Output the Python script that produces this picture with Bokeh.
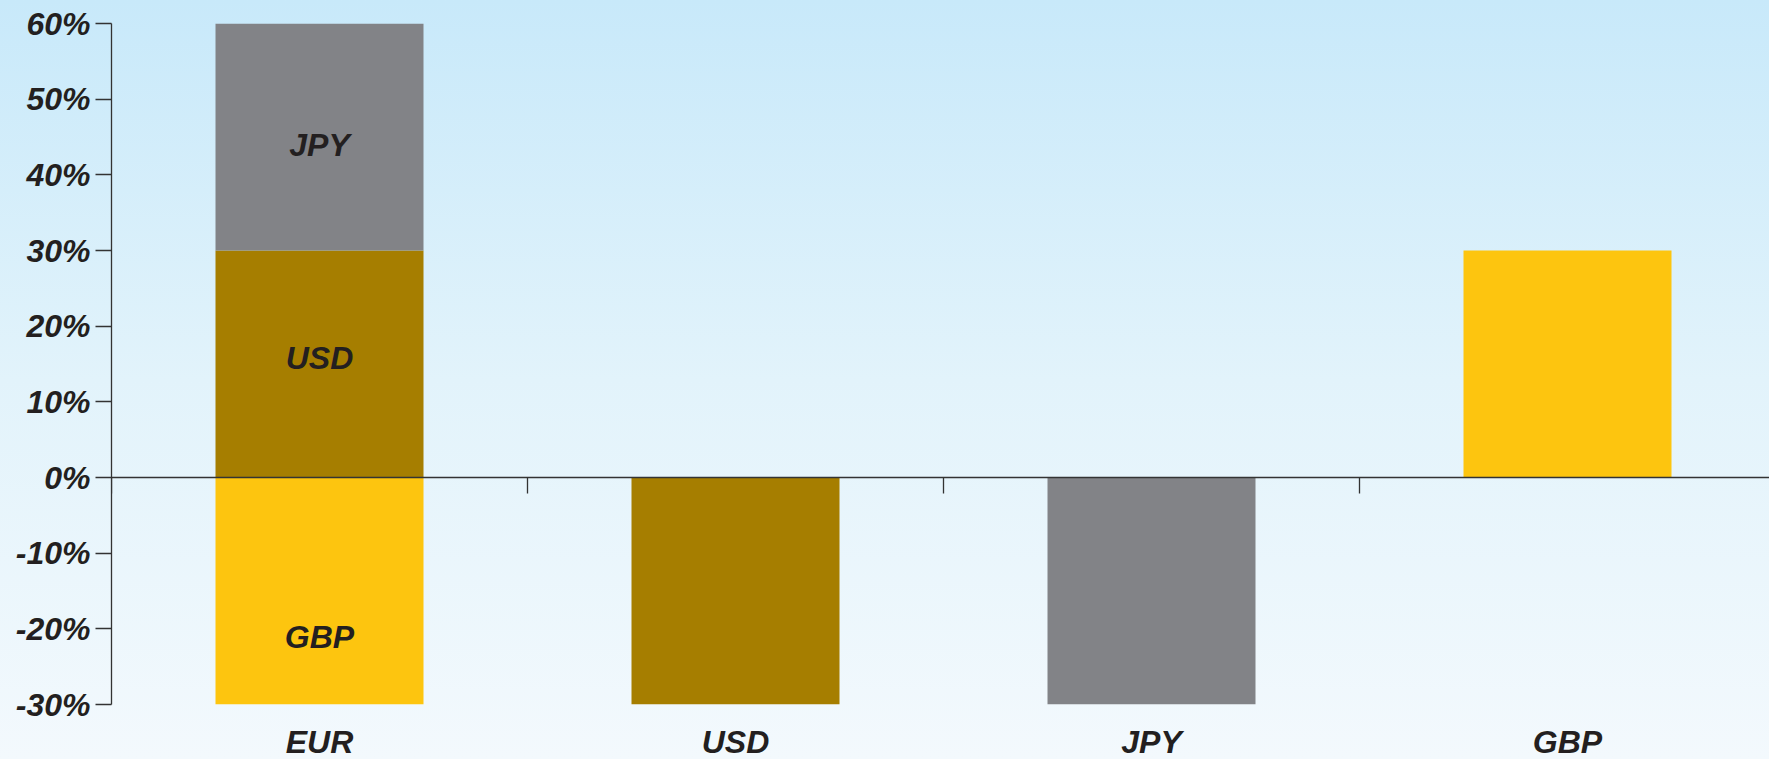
from bokeh.plotting import figure
from bokeh.models import (Range1d, FixedTicker, LinearAxis, ColumnDataSource,
                          GlobalInlineStyleSheet)
from bokeh.core.properties import value
from bokeh.embed import file_html
from bokeh.resources import INLINE

# ---- data ----
categories = ["EUR", "USD", "JPY", "GBP"]
gbp_share = [-30, 0, 0, 30]
usd_share = [30, -30, 0, 0]
jpy_share = [30, 0, -30, 0]
series_names = ["USD", "JPY", "GBP"]
series_values = [usd_share, jpy_share, gbp_share]
series_colors = ["#A67E00", "#828387", "#FDC50F"]

# labels inside the EUR stacked bar
inner_labels = ["JPY", "USD", "GBP"]
inner_label_y = [43.9, 15.8, -21.1]

y_ticks = [-30, -20, -10, 0, 10, 20, 30, 40, 50, 60]
y_min, y_max = -30, 60

FONT = "Liberation Sans"
TXT = "#231F20"

xc = [i + 0.5 for i in range(len(categories))]

p = figure(frame_width=1658, frame_height=681, output_backend="svg", toolbar_location=None,
           x_range=Range1d(0, 1658 / 416), y_range=Range1d(y_min, y_max),
           min_border_left=111, min_border_right=0, min_border_top=23,
           min_border_bottom=40)
p.background_fill_color = None
p.border_fill_color = None
p.outline_line_color = None
p.grid.visible = False
p.stylesheets = [GlobalInlineStyleSheet(
    css="html, body { background: linear-gradient(to bottom, #C8E9FA 0%, #E2F3FB 50%, #F3F9FD 100%); min-height: 100%; overflow: hidden; }")]

# stacked bars (positive stack upward, negative downward)
pos_base = [0.0] * len(categories)
neg_base = [0.0] * len(categories)
for name, vals, col in zip(series_names, series_values, series_colors):
    bottoms, tops = [], []
    for i, v in enumerate(vals):
        if v >= 0:
            bottoms.append(pos_base[i]); tops.append(pos_base[i] + v); pos_base[i] += v
        else:
            bottoms.append(neg_base[i] + v); tops.append(neg_base[i]); neg_base[i] += v
    src = ColumnDataSource(dict(x=xc, bottom=bottoms, top=tops))
    p.vbar(x="x", bottom="bottom", top="top", width=0.5, source=src,
           fill_color=col, line_color=None)

# labels inside the EUR bar
p.text(x=[xc[0]] * 3, y=inner_label_y, text=inner_labels,
       text_font=value(FONT), text_font_size="32px", text_font_style="bold italic",
       text_color=TXT, text_align="center", text_baseline="middle")

# y axis
ya = p.yaxis[0]
ya.ticker = FixedTicker(ticks=y_ticks)
ya.major_label_overrides = {t: f"{t}%" for t in y_ticks}
ya.major_label_text_font = FONT
ya.major_label_text_font_size = "32px"
ya.major_label_text_font_style = "bold italic"
ya.major_label_text_color = TXT
ya.major_tick_out = 16
ya.major_tick_in = 0
ya.minor_tick_out = 0
ya.minor_tick_in = 0
ya.major_label_standoff = 5
ya.axis_line_color = "#333333"
ya.major_tick_line_color = "#333333"
ya.axis_line_width = 1.3
ya.major_tick_line_width = 1.3

# bottom axis: category labels only
xa = p.xaxis[0]
xa.ticker = FixedTicker(ticks=xc)
xa.major_label_overrides = {x: c for x, c in zip(xc, categories)}
xa.axis_line_color = None
xa.major_tick_line_color = None
xa.minor_tick_line_color = None
xa.major_tick_out = 0
xa.major_label_standoff = 19
xa.major_label_text_font = FONT
xa.major_label_text_font_size = "32px"
xa.major_label_text_font_style = "bold italic"
xa.major_label_text_color = TXT

# zero line axis with category dividers
za = LinearAxis(fixed_location=0,
                ticker=FixedTicker(ticks=list(range(len(categories)))),
                major_label_text_font_size="0px", major_label_text_alpha=0,
                major_label_standoff=0,
                major_tick_out=16, major_tick_in=0, minor_tick_out=0, minor_tick_in=0,
                axis_line_color="#333333", major_tick_line_color="#333333",
                axis_line_width=1.3, major_tick_line_width=1.3)
p.add_layout(za, "below")

open("out.html", "w").write(file_html(p, INLINE))
